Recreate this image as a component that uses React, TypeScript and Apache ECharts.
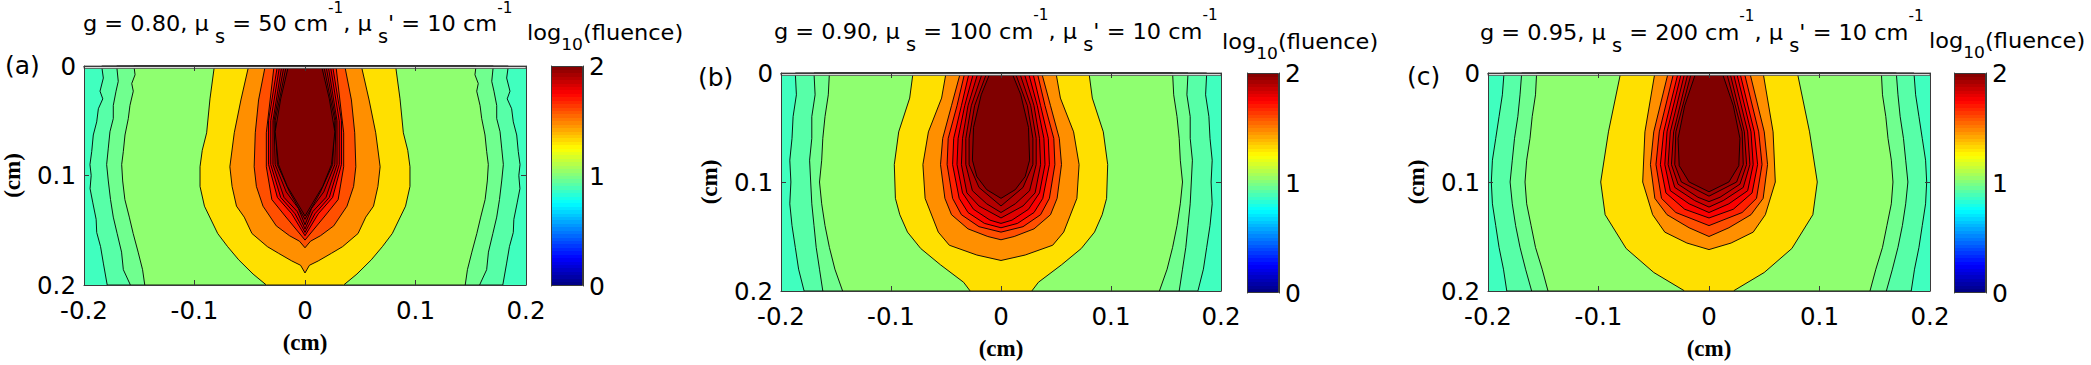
import React, { useEffect, useRef } from "react";
import * as echarts from "echarts";

// ---------- data ----------
const panelLabels = ["(a)", "(b)", "(c)"];
const gValues = ["0.80", "0.90", "0.95"];
const muSValues = ["50", "100", "200"];
const muSPrimeValues = ["10", "10", "10"];
const colorbarTicks = [0, 1, 2];

// contour level values (log10 fluence) of the filled regions, outermost first
const levelValues = [0.875, 0.92, 0.97, 1.03, 1.31, 1.47, 1.595, 1.69, 1.76, 1.81, 1.86, 1.9, 1.94, 2.0];

// each contour: [depth (cm), half-width (cm)] pairs
const contoursA = [
  [[0,0.184],[0.011,0.1825],[0.023,0.1855],[0.03,0.183],[0.039,0.187],[0.051,0.1885],[0.063,0.1916],[0.078,0.193],[0.09,0.1946],[0.1,0.1935],[0.112,0.1945],[0.125,0.192],[0.14,0.189],[0.152,0.1885],[0.165,0.185],[0.18,0.1825],[0.2,0.179]],
  [[0,0.1704],[0.014,0.169],[0.023,0.171],[0.036,0.1735],[0.048,0.1735],[0.06,0.1765],[0.075,0.178],[0.09,0.1795],[0.105,0.178],[0.122,0.176],[0.138,0.1735],[0.153,0.17],[0.17,0.166],[0.186,0.1644],[0.2,0.158]],
  [[0,0.1548],[0.008,0.1538],[0.016,0.1568],[0.023,0.1554],[0.036,0.1584],[0.048,0.1599],[0.063,0.1629],[0.078,0.1644],[0.09,0.1659],[0.105,0.165],[0.122,0.163],[0.138,0.159],[0.153,0.1555],[0.17,0.151],[0.186,0.147],[0.2,0.145]],
  [[0,0.082],[0.03,0.086],[0.061,0.089],[0.077,0.093],[0.092,0.095],[0.11,0.095],[0.128,0.091],[0.153,0.079],[0.165,0.07],[0.177,0.06],[0.19,0.047],[0.2,0.035]],
  [[0,0.051],[0.031,0.058],[0.061,0.064],[0.092,0.068],[0.11,0.066],[0.128,0.062],[0.138,0.055],[0.153,0.048],[0.165,0.034],[0.171,0.024],[0.178,0.012],[0.182,0.004],[0.189,0]],
  [[0,0.036],[0.031,0.042],[0.061,0.045],[0.092,0.046],[0.11,0.044],[0.128,0.038],[0.146,0.026],[0.155,0.014],[0.16,0.005],[0.166,0]],
  [[0,0.028],[0.061,0.035],[0.092,0.035],[0.122,0.03],[0.137,0.018],[0.159,0]],
  [[0,0.025],[0.05,0.033],[0.09,0.033],[0.12,0.025],[0.135,0.012],[0.155,0]],
  [[0,0.023],[0.05,0.031],[0.09,0.031],[0.12,0.022],[0.135,0.009],[0.152,0]],
  [[0,0.021],[0.05,0.029],[0.09,0.029],[0.12,0.019],[0.133,0.007],[0.149,0]],
  [[0,0.019],[0.05,0.028],[0.09,0.027],[0.115,0.017],[0.13,0.006],[0.145,0]],
  [[0,0.017],[0.05,0.027],[0.09,0.025],[0.115,0.014],[0.14,0]],
  [[0,0.015],[0.03,0.022],[0.06,0.027],[0.09,0.024],[0.11,0.016],[0.125,0.007],[0.137,0]],
];

const contoursB = [
  [[0,0.187],[0.02,0.186],[0.04,0.189],[0.06,0.19],[0.08,0.192],[0.1,0.191],[0.12,0.192],[0.14,0.19],[0.16,0.187],[0.18,0.184],[0.2,0.179]],
  [[0,0.17],[0.02,0.169],[0.04,0.172],[0.06,0.172],[0.08,0.174],[0.1,0.173],[0.12,0.172],[0.14,0.17],[0.16,0.168],[0.18,0.165],[0.2,0.162]],
  [[0,0.156],[0.02,0.157],[0.04,0.16],[0.06,0.162],[0.08,0.163],[0.1,0.165],[0.12,0.163],[0.14,0.16],[0.16,0.156],[0.18,0.151],[0.2,0.144]],
  [[0,0.08],[0.023,0.083],[0.054,0.093],[0.084,0.097],[0.115,0.096],[0.13,0.092],[0.146,0.085],[0.161,0.073],[0.176,0.055],[0.192,0.034],[0.2,0.028]],
  [[0,0.05],[0.023,0.054],[0.054,0.066],[0.084,0.071],[0.115,0.069],[0.146,0.057],[0.158,0.047],[0.167,0.022],[0.172,0]],
  [[0,0.037],[0.03,0.045],[0.06,0.053],[0.084,0.055],[0.115,0.051],[0.13,0.045],[0.143,0.03],[0.15,0.012],[0.153,0]],
  [[0,0.033],[0.03,0.04],[0.06,0.048],[0.084,0.049],[0.115,0.044],[0.13,0.036],[0.141,0.02],[0.146,0]],
  [[0,0.029],[0.03,0.036],[0.06,0.043],[0.084,0.044],[0.115,0.038],[0.128,0.03],[0.138,0.015],[0.142,0]],
  [[0,0.025],[0.03,0.033],[0.06,0.039],[0.084,0.04],[0.11,0.035],[0.125,0.025],[0.135,0.01],[0.138,0]],
  [[0,0.021],[0.03,0.03],[0.06,0.035],[0.084,0.036],[0.11,0.031],[0.122,0.02],[0.133,0]],
  [[0,0.017],[0.03,0.027],[0.06,0.032],[0.084,0.032],[0.108,0.026],[0.12,0.013],[0.128,0]],
  [[0,0.013],[0.03,0.024],[0.06,0.029],[0.084,0.029],[0.105,0.02],[0.122,0]],
  [[0,0.01],[0.02,0.018],[0.05,0.025],[0.08,0.026],[0.095,0.022],[0.107,0.013],[0.115,0]],
];

const contoursC = [
  [[0,0.1855],[0.02,0.187],[0.04,0.19],[0.06,0.193],[0.08,0.196],[0.1,0.197],[0.12,0.196],[0.14,0.193],[0.16,0.19],[0.18,0.186],[0.2,0.183]],
  [[0,0.1695],[0.02,0.171],[0.04,0.173],[0.06,0.176],[0.08,0.178],[0.1,0.18],[0.12,0.178],[0.14,0.175],[0.16,0.171],[0.18,0.166],[0.2,0.1605]],
  [[0,0.156],[0.02,0.157],[0.04,0.16],[0.06,0.162],[0.08,0.165],[0.1,0.1665],[0.12,0.165],[0.14,0.161],[0.16,0.157],[0.18,0.151],[0.2,0.1457]],
  [[0,0.08],[0.054,0.091],[0.1,0.098],[0.13,0.094],[0.161,0.075],[0.183,0.05],[0.2,0.022]],
  [[0,0.049],[0.054,0.058],[0.1,0.06],[0.13,0.051],[0.146,0.04],[0.156,0.02],[0.162,0]],
  [[0,0.037],[0.054,0.05],[0.084,0.053],[0.115,0.049],[0.13,0.038],[0.142,0.018],[0.15,0]],
  [[0,0.032],[0.054,0.045],[0.084,0.048],[0.115,0.043],[0.128,0.03],[0.14,0]],
  [[0,0.028],[0.054,0.041],[0.084,0.044],[0.11,0.039],[0.125,0.022],[0.133,0]],
  [[0,0.025],[0.054,0.038],[0.084,0.04],[0.108,0.035],[0.12,0.018],[0.128,0]],
  [[0,0.022],[0.054,0.035],[0.084,0.037],[0.105,0.031],[0.117,0.013],[0.123,0]],
  [[0,0.019],[0.054,0.032],[0.084,0.034],[0.102,0.028],[0.114,0.01],[0.118,0]],
  [[0,0.016],[0.054,0.03],[0.084,0.031],[0.1,0.025],[0.113,0]],
  [[0,0.012],[0.03,0.022],[0.06,0.028],[0.085,0.027],[0.1,0.018],[0.109,0]],
];

const panelContours = [contoursA, contoursB, contoursC];

// ---------- style / layout ----------
const SANS = "'DejaVu Sans', sans-serif";
const SERIF = "'Liberation Serif', 'Times New Roman', serif";
const AXIS_COLOR = "#3a3a3a";

const plotRects = [
  { left: 84, top: 66, width: 442, height: 219 },
  { left: 781, top: 73, width: 440, height: 219 },
  { left: 1488, top: 73, width: 442, height: 219 },
];
const cbarRects = [
  { left: 551, top: 66, width: 32, height: 220 },
  { left: 1247, top: 73, width: 32, height: 220 },
  { left: 1954, top: 73, width: 32, height: 220 },
];
const titlePos = [
  { x: 83, y: 0.5 },
  { x: 774, y: 8 },
  { x: 1480, y: 9 },
];
const logPos = [
  { x: 527, y: 12.5 },
  { x: 1222, y: 21.5 },
  { x: 1929, y: 20.5 },
];
const labelPos = [
  { x: 5, y: 65 },
  { x: 698, y: 77 },
  { x: 1407, y: 76 },
];

function jet(t: number): string {
  const c = (v: number) => Math.round(255 * Math.max(0, Math.min(1, v)));
  const r = c(1.5 - Math.abs(4 * t - 3));
  const g = c(1.5 - Math.abs(4 * t - 2));
  const b = c(1.5 - Math.abs(4 * t - 1));
  return `rgb(${r},${g},${b})`;
}
const levelColors = levelValues.map((v) => jet(v / 2));

function colorbarGradient() {
  const stops: { offset: number; color: string }[] = [];
  const n = 64;
  for (let i = 0; i < n; i++) {
    const col = jet((i + 0.5) / n);
    stops.push({ offset: i / n, color: col });
    stops.push({ offset: (i + 1) / n, color: col });
  }
  return new echarts.graphic.LinearGradient(0, 1, 0, 0, stops);
}

function makeRenderItem(profiles: number[][][]) {
  return (_params: any, api: any) => {
    const tl = api.coord([-0.2, 0]);
    const br = api.coord([0.2, 0.2]);
    const children: any[] = [];
    children.push({
      type: "rect",
      shape: { x: tl[0], y: tl[1], width: br[0] - tl[0], height: br[1] - tl[1] },
      style: { fill: levelColors[0] },
    });
    profiles.forEach((p, i) => {
      const left = p.map(([d, w]) => api.coord([-w, d]));
      const right = p.slice().reverse().map(([d, w]) => api.coord([w, d]));
      children.push({
        type: "polygon",
        shape: { points: [...left, ...right] },
        style: { fill: levelColors[i + 1], stroke: "#000", lineWidth: 0.9 },
      });
    });
    const s = api.coord([0.2, 0.0022]);
    children.push({
      type: "rect",
      shape: { x: tl[0], y: tl[1], width: br[0] - tl[0], height: s[1] - tl[1] },
      style: { fill: "#e6e6e6", stroke: "#444", lineWidth: 0.8 },
    });
    return { type: "group", children };
  };
}

const NB = "\u00a0";
function sp(s: string) {
  return s.replace(/ /g, NB);
}

function buildOption() {
  const grid: any[] = [];
  const xAxis: any[] = [];
  const yAxis: any[] = [];
  const series: any[] = [];
  const graphic: any[] = [];
  const grad = colorbarGradient();

  for (let i = 0; i < 3; i++) {
    grid.push({ ...plotRects[i], containLabel: false });
    grid.push({ ...cbarRects[i], containLabel: false });
    const pg = 2 * i;
    const cg = 2 * i + 1;

    const tickStyle = { inside: true, length: 5, lineStyle: { color: AXIS_COLOR, width: 1 } };
    const lineStyle = { show: true, onZero: false, lineStyle: { color: AXIS_COLOR, width: 1 } };
    const nameStyle = { fontFamily: SERIF, fontWeight: "bold", fontSize: 23, color: "#000" };

    xAxis.push({
      gridIndex: pg, type: "value", min: -0.2, max: 0.2, interval: 0.1, position: "bottom", z: 5,
      name: "(cm)", nameLocation: "middle", nameGap: 46, nameTextStyle: nameStyle,
      axisLine: lineStyle, axisTick: tickStyle, splitLine: { show: false },
      axisLabel: { fontFamily: SANS, fontSize: 24.5, color: "#000", margin: 13 },
    });
    xAxis.push({
      gridIndex: pg, type: "value", min: -0.2, max: 0.2, interval: 0.1, position: "top", z: 5,
      axisLine: lineStyle, axisTick: tickStyle, splitLine: { show: false }, axisLabel: { show: false },
    });
    xAxis.push({ gridIndex: cg, type: "category", data: ["cb"], show: false });

    yAxis.push({
      gridIndex: pg, type: "value", min: 0, max: 0.2, interval: 0.1, inverse: true, position: "left", z: 5,
      name: "(cm)", nameLocation: "middle", nameGap: 60, nameTextStyle: nameStyle,
      axisLine: lineStyle, axisTick: tickStyle, splitLine: { show: false },
      axisLabel: { fontFamily: SANS, fontSize: 24.5, color: "#000", margin: 8 },
    });
    yAxis.push({
      gridIndex: pg, type: "value", min: 0, max: 0.2, interval: 0.1, inverse: true, position: "right", z: 5,
      axisLine: lineStyle, axisTick: tickStyle, splitLine: { show: false }, axisLabel: { show: false },
    });
    yAxis.push({
      gridIndex: cg, type: "value", min: colorbarTicks[0], max: colorbarTicks[2], interval: 1, position: "right", z: 5,
      axisLine: lineStyle, axisTick: { inside: true, length: 4, lineStyle: { color: AXIS_COLOR } }, splitLine: { show: false },
      axisLabel: { fontFamily: SANS, fontSize: 25, color: "#000", margin: 6 },
    });
    yAxis.push({
      gridIndex: cg, type: "value", min: colorbarTicks[0], max: colorbarTicks[2], interval: 1, position: "left", z: 5,
      axisLine: lineStyle, axisTick: { inside: true, length: 4, lineStyle: { color: AXIS_COLOR } }, splitLine: { show: false },
      axisLabel: { show: false },
    });

    series.push({
      type: "custom", xAxisIndex: 3 * i, yAxisIndex: 4 * i, data: [[0, 0]], silent: true,
      renderItem: makeRenderItem(panelContours[i]),
    });
    series.push({
      type: "bar", xAxisIndex: 3 * i + 2, yAxisIndex: 4 * i + 2, data: [colorbarTicks[2]], silent: true,
      barWidth: "100%", barCategoryGap: 0,
      itemStyle: { color: grad, borderColor: AXIS_COLOR, borderWidth: 1 },
    });

    const titleText =
      `{m|${sp(`g = ${gValues[i]}, μ`)}}{b|${NB}s}{m|${sp(` = ${muSValues[i]} cm`)}}{p|-1}` +
      `{m|${sp(", μ")}}{b|${NB}s}{m|${sp(`' = ${muSPrimeValues[i]} cm`)}}{p|-1}`;
    graphic.push({
      type: "text", x: titlePos[i].x, y: titlePos[i].y, scaleX: 1.02, z: 10,
      style: {
        text: titleText, align: "left", verticalAlign: "top", fontFamily: SANS, fill: "#000",
        rich: {
          m: { fontSize: 22, lineHeight: 46, fontFamily: SANS, fill: "#000" },
          b: { fontSize: 19, lineHeight: 22, verticalAlign: "bottom", fontFamily: SANS, fill: "#000" },
          p: { fontSize: 15, lineHeight: 25, verticalAlign: "top", fontFamily: SANS, fill: "#000" },
        },
      },
    });
    graphic.push({
      type: "text", x: logPos[i].x, y: logPos[i].y, scaleX: 1.07, z: 10,
      style: {
        text: "{m|log}{b|10}{m|(fluence)}", align: "left", verticalAlign: "top", fontFamily: SANS, fill: "#000",
        rich: {
          m: { fontSize: 21, lineHeight: 40, fontFamily: SANS, fill: "#000" },
          b: { fontSize: 16, lineHeight: 14, verticalAlign: "bottom", fontFamily: SANS, fill: "#000" },
        },
      },
    });
    graphic.push({
      type: "text", x: labelPos[i].x, y: labelPos[i].y, z: 10,
      style: { text: panelLabels[i], align: "left", verticalAlign: "middle", fontFamily: SANS, fontSize: 25, fill: "#000" },
    });
  }

  return { animation: false, backgroundColor: "#ffffff", grid, xAxis, yAxis, series, graphic };
}

export default function App() {
  const ref = useRef<HTMLDivElement>(null);
  useEffect(() => {
    if (!ref.current) return;
    const chart = echarts.init(ref.current, undefined, { renderer: "svg" });
    chart.setOption(buildOption() as any);
    return () => chart.dispose();
  }, []);
  return (
    <div
      ref={ref}
      style={{ position: "absolute", left: 0, top: 0, width: 2091, height: 365, background: "#fff" }}
    />
  );
}
